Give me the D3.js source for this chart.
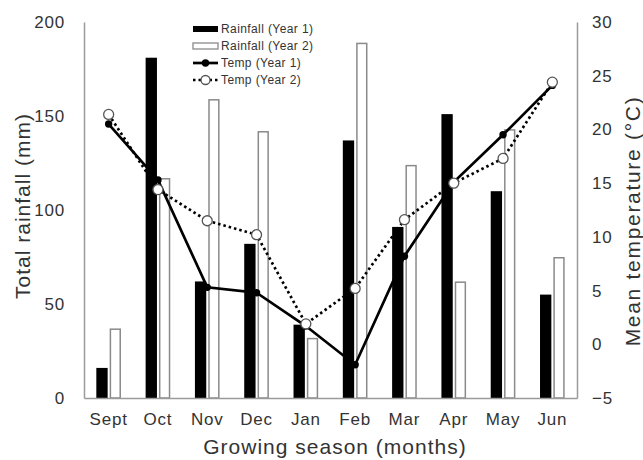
<!DOCTYPE html>
<html>
<head>
<meta charset="utf-8">
<script src="https://cdn.jsdelivr.net/npm/d3@7"></script>
<style>
  html, body { margin: 0; padding: 0; background: #fff; }
  svg { display: block; font-family: "Liberation Sans", Arial, sans-serif; }
</style>
</head>
<body>
<svg id="chart" width="643" height="460"></svg>
<script>
const months = ["Sept", "Oct", "Nov", "Dec", "Jan", "Feb", "Mar", "Apr", "May", "Jun"];
const rainYear1 = [16, 181, 62, 82, 39, 137, 91, 151, 110, 55];
const rainYear2 = [37, 117, 159, 142, 32, 189, 124, 62, 143, 75];
const tempYear1 = [20.5, 15.3, 5.3, 4.8, 1.7, -1.9, 8.2, 15.1, 19.5, 24.1];
const tempYear2 = [21.4, 14.4, 11.5, 10.2, 1.9, 5.2, 11.6, 15.0, 17.3, 24.4];
const rainTicks = [0, 50, 100, 150, 200];
const tempTicks = [-5, 0, 5, 10, 15, 20, 25, 30];
const legendLabels = ["Rainfall (Year 1)", "Rainfall (Year 2)", "Temp (Year 1)", "Temp (Year 2)"];

const svg = d3.select("#chart");
const L = 84, R = 577, T = 22, B = 398;
const axisColor = "#9a9a9a";
const textColor = "#333333";

const x = d3.scaleBand().domain(months).range([L, R]).paddingInner(0.5).paddingOuter(0.25);
const x1 = d3.scaleBand().domain(["y1", "y2"]).range([0, x.bandwidth()]).paddingInner(0.15);
const yRain = d3.scaleLinear().domain([0, 200]).range([B, T]);
const yTemp = d3.scaleLinear().domain([-5, 30]).range([B, T]);

// Bars
const g = svg.append("g");
g.selectAll("rect.y1").data(months).join("rect")
  .attr("x", (d) => x(d) + x1("y1"))
  .attr("y", (d, i) => yRain(rainYear1[i]))
  .attr("width", x1.bandwidth())
  .attr("height", (d, i) => B - yRain(rainYear1[i]))
  .attr("fill", "#000");
g.selectAll("rect.y2").data(months).join("rect")
  .attr("x", (d) => x(d) + x1("y2") + 0.75)
  .attr("y", (d, i) => yRain(rainYear2[i]) + 0.75)
  .attr("width", x1.bandwidth() - 1.5)
  .attr("height", (d, i) => B - yRain(rainYear2[i]) - 0.75)
  .attr("fill", "#fff")
  .attr("stroke", "#8a8a8a")
  .attr("stroke-width", 1.5);

// Axes
const left = svg.append("g").attr("transform", `translate(${L},0)`)
  .call(d3.axisLeft(yRain).tickValues(rainTicks).tickSize(0).tickPadding(19));
const right = svg.append("g").attr("transform", `translate(${R},0)`)
  .call(d3.axisRight(yTemp).tickValues(tempTicks).tickSize(0).tickPadding(15));
const bottom = svg.append("g").attr("transform", `translate(0,${B})`)
  .call(d3.axisBottom(x).tickSize(0).tickPadding(15));
[left, right, bottom].forEach((a) => {
  a.select(".domain").attr("stroke", axisColor).attr("stroke-width", 1.5);
  a.selectAll("text").attr("fill", textColor).style("font-size", "17px").style("letter-spacing", "0.8px")
    .attr("font-family", "'Liberation Sans', Arial, sans-serif");
});

// Lines
const xc = (d) => x(d) + x.bandwidth() / 2;
const line1 = d3.line().x((d, i) => xc(months[i])).y((d) => yTemp(d));
svg.append("path").datum(tempYear1).attr("d", line1)
  .attr("fill", "none").attr("stroke", "#000").attr("stroke-width", 2.7);
svg.selectAll("circle.t1").data(tempYear1).join("circle")
  .attr("cx", (d, i) => xc(months[i])).attr("cy", (d) => yTemp(d))
  .attr("r", 3.7).attr("fill", "#000");
svg.append("path").datum(tempYear2).attr("d", line1)
  .attr("fill", "none").attr("stroke", "#000").attr("stroke-width", 2.7)
  .attr("stroke-dasharray", "2.5,3");
svg.selectAll("circle.t2").data(tempYear2).join("circle")
  .attr("cx", (d, i) => xc(months[i])).attr("cy", (d) => yTemp(d))
  .attr("r", 5).attr("fill", "#fff").attr("stroke", "#555").attr("stroke-width", 1.3);

// Axis titles
svg.append("text").attr("x", 335).attr("y", 454)
  .attr("text-anchor", "middle").attr("fill", textColor)
  .style("font-size", "21px").style("letter-spacing", "1px")
  .text("Growing season (months)");
svg.append("text").attr("transform", "translate(30,206) rotate(-90)")
  .attr("text-anchor", "middle").attr("fill", textColor)
  .style("font-size", "21px").style("letter-spacing", "1px")
  .text("Total rainfall (mm)");
svg.append("text").attr("transform", "translate(640,221) rotate(-90)")
  .attr("text-anchor", "middle").attr("fill", textColor)
  .style("font-size", "21px").style("letter-spacing", "1.7px")
  .text("Mean temperature (\u00B0C)");

// Legend
const lg = svg.append("g");
const ly = [29, 46, 63, 80];
const sx0 = 193, sx1 = 218;
lg.append("rect").attr("x", sx0).attr("y", ly[0] - 3).attr("width", sx1 - sx0).attr("height", 6).attr("fill", "#000");
lg.append("rect").attr("x", sx0).attr("y", ly[1] - 3).attr("width", sx1 - sx0).attr("height", 6)
  .attr("fill", "#fff").attr("stroke", "#8a8a8a").attr("stroke-width", 1.3);
lg.append("line").attr("x1", sx0).attr("x2", sx1).attr("y1", ly[2]).attr("y2", ly[2])
  .attr("stroke", "#000").attr("stroke-width", 2.7);
lg.append("circle").attr("cx", (sx0 + sx1) / 2).attr("cy", ly[2]).attr("r", 3.7).attr("fill", "#000");
lg.append("line").attr("x1", sx0).attr("x2", sx1).attr("y1", ly[3]).attr("y2", ly[3])
  .attr("stroke", "#000").attr("stroke-width", 2.7).attr("stroke-dasharray", "2.5,3");
lg.append("circle").attr("cx", (sx0 + sx1) / 2).attr("cy", ly[3]).attr("r", 4.5)
  .attr("fill", "#fff").attr("stroke", "#555").attr("stroke-width", 1.3);
lg.selectAll("text").data(legendLabels).join("text")
  .attr("x", 221).attr("y", (d, i) => ly[i]).attr("dy", "0.35em")
  .attr("fill", textColor).style("font-size", "12px").style("letter-spacing", "0.4px")
  .text((d) => d);
</script>
</body>
</html>
